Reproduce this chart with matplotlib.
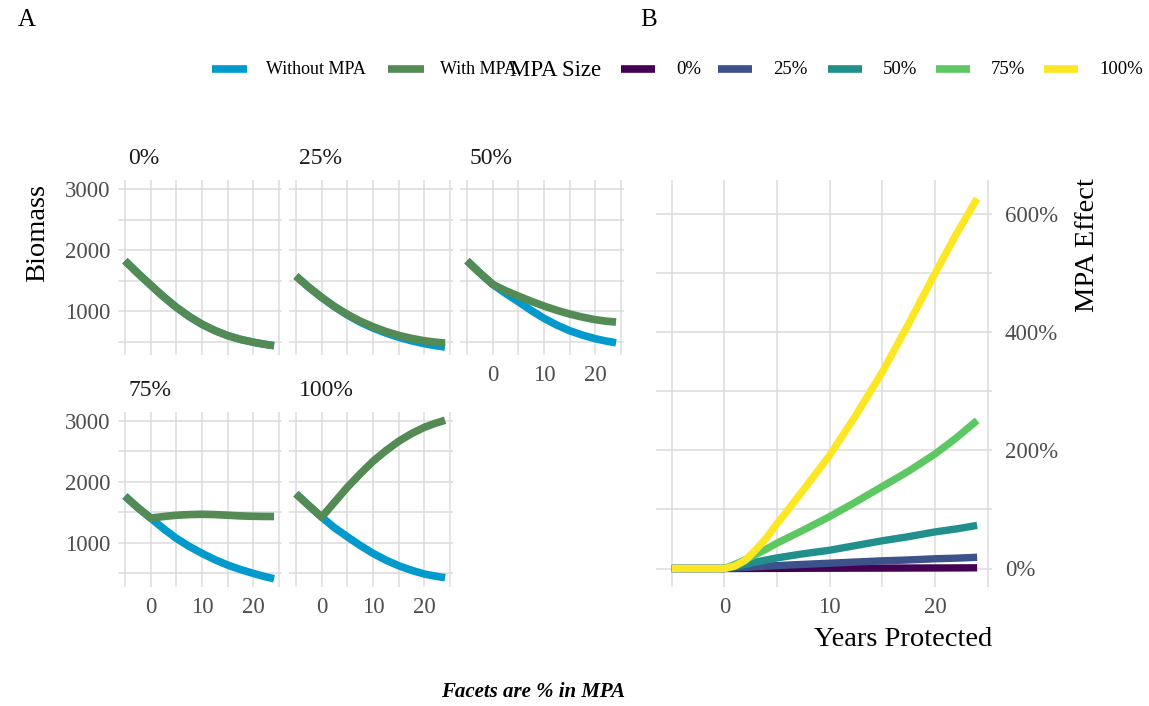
import matplotlib
matplotlib.use('Agg')
import matplotlib.pyplot as plt
from matplotlib.lines import Line2D
from matplotlib.ticker import MultipleLocator, FuncFormatter

plt.rcParams['font.family'] = ['Liberation Serif', 'DejaVu Serif']

# ---------------- data ----------------
years = [-5, -2.5, 0, 2.5, 5, 7.5, 10, 12.5, 15, 17.5, 20, 22, 24]

facet_labels = ['0%', '25%', '50%', '75%', '100%']

without_0 = [1825, 1620, 1426, 1235, 1062, 910, 783, 680, 597, 535, 489, 458, 433]
with_0 = [1825, 1620, 1426, 1235, 1062, 910, 783, 680, 597, 535, 489, 458, 433]

without_25 = [1574, 1390, 1224, 1070, 935, 818, 722, 640, 570, 512, 465, 435, 410]
with_25 = [1574, 1390, 1224, 1075, 946, 835, 743, 665, 602, 552, 513, 492, 475]

without_50 = [1825, 1625, 1438, 1290, 1153, 1010, 880, 770, 677, 605, 546, 510, 480]
with_50 = [1825, 1625, 1438, 1335, 1246, 1160, 1082, 1012, 951, 900, 858, 835, 820]

without_75 = [1765, 1575, 1405, 1230, 1072, 940, 826, 722, 634, 560, 497, 450, 410]
with_75 = [1765, 1575, 1405, 1430, 1451, 1462, 1467, 1462, 1451, 1440, 1434, 1431, 1430]

without_100 = [1803, 1610, 1420, 1245, 1098, 955, 826, 715, 623, 548, 487, 455, 427]
with_100 = [1803, 1610, 1420, 1665, 1910, 2130, 2336, 2510, 2664, 2790, 2893, 2955, 3008]

without_series = [without_0, without_25, without_50, without_75, without_100]
with_series = [with_0, with_25, with_50, with_75, with_100]

# MPA effect (%) by MPA size
years_b = [-5, -2.5, 0, 1, 2, 3, 4, 5, 6.25, 7.5, 10, 12.5, 15, 17.5, 20, 22, 24]
effect_0 = [0, 0, 0, 0, 0.1, 0.1, 0.2, 0.2, 0.3, 0.4, 0.5, 0.6, 0.7, 0.8, 0.9, 1.0, 1.2]
effect_25 = [0, 0, 0, 1, 2, 3, 4, 5, 6, 7, 9, 11, 13, 14.5, 16.5, 17.5, 19]
effect_50 = [0, 0, 0, 3.5, 7, 11, 14.5, 18, 21.5, 25, 31, 39, 47, 54, 62, 67, 73]
effect_75 = [0, 0, 0, 7, 15, 24, 33, 43, 54, 65, 88, 113, 139, 165, 194, 221, 251]
effect_100 = [0, 0, 0, 4, 14, 32, 52, 76, 104, 133, 192, 260, 333, 415, 500, 566, 627]
effect_series = [effect_0, effect_25, effect_50, effect_75, effect_100]

mpa_sizes = ['0%', '25%', '50%', '75%', '100%']
viridis5 = ['#440154', '#3B528B', '#21908C', '#5DC863', '#FDE725']
col_without = '#009ACD'
col_with = '#548B54'
grid_col = '#dcdcdc'
tick_col = '#4d4d4d'

W, H = 1149, 706
fig = plt.figure(figsize=(W / 100, H / 100), dpi=100)


def px_axes(left, top, width, height):
    return fig.add_axes([left / W, 1 - (top + height) / H, width / W, height / H])


def ftext(x, y, s, **kw):
    return fig.text(x / W, 1 - y / H, s, **kw)


def fline(x0, x1, y, color, lw):
    fig.add_artist(Line2D([x0 / W, x1 / W], [1 - y / H, 1 - y / H],
                          transform=fig.transFigure, color=color, lw=lw,
                          solid_capstyle='butt'))


def style(ax):
    for sp in ax.spines.values():
        sp.set_visible(False)
    ax.set_facecolor('white')
    ax.grid(which='both', color=grid_col, lw=1.1)
    ax.set_axisbelow(True)
    ax.tick_params(which='both', length=0, labelcolor=tick_col, labelsize=16.5)


# ---------------- panel A ----------------
col_left = [117.5, 288.5, 459.5]
row_top = [180, 411.7]
pw, ph = 164, 175.3
positions = [(0, 0), (0, 1), (0, 2), (1, 0), (1, 1)]

for i, (r, c) in enumerate(positions):
    ax = px_axes(col_left[c], row_top[r], pw, ph)
    style(ax)
    ax.plot(years, without_series[i], color=col_without, lw=5.5, solid_capstyle='butt')
    ax.plot(years, with_series[i], color=col_with, lw=5.5, solid_capstyle='butt')
    ax.set_xlim(-6.45, 25.45)
    ax.set_ylim(275, 3148)
    ax.xaxis.set_major_locator(MultipleLocator(10))
    ax.xaxis.set_minor_locator(MultipleLocator(5))
    ax.yaxis.set_major_locator(MultipleLocator(1000))
    ax.yaxis.set_minor_locator(MultipleLocator(500))
    ax.tick_params(axis='y', pad=5)
    ax.tick_params(axis='x', pad=7)
    if c != 0:
        ax.tick_params(axis='y', labelleft=False)
    if (r, c) in [(0, 0), (0, 1)]:
        ax.tick_params(axis='x', labelbottom=False)
    ftext(col_left[c] + 10.5, row_top[r] - 21, facet_labels[i],
          fontsize=17, color='#1a1a1a', va='center', ha='left')

ftext(38, 233, 'Biomass', fontsize=20.5, rotation=90, va='center', ha='center')
ftext(533, 692, 'Facets are % in MPA', fontsize=15, fontweight='bold',
      fontstyle='italic', ha='center', va='center')

# ---------------- panel B ----------------
axb = px_axes(656.4, 180, 336, 407)
style(axb)
for vals, colr in zip(effect_series, viridis5):
    axb.plot(years_b, vals, color=colr, lw=5.3, solid_capstyle='butt')
axb.set_xlim(-6.45, 25.45)
axb.set_ylim(-31.35, 658.35)
axb.xaxis.set_major_locator(MultipleLocator(10))
axb.xaxis.set_minor_locator(MultipleLocator(5))
axb.yaxis.set_major_locator(MultipleLocator(200))
axb.yaxis.set_minor_locator(MultipleLocator(100))
axb.yaxis.set_major_formatter(FuncFormatter(lambda v, p: f'{v:.0f}%'))
axb.yaxis.tick_right()
axb.tick_params(axis='y', pad=9)
axb.tick_params(axis='x', pad=7)

ftext(992, 639, 'Years Protected', fontsize=20.5, ha='right', va='center')
ftext(1087, 245, 'MPA Effect', fontsize=20.5, rotation=90, ha='center', va='center')

# ---------------- tags ----------------
ftext(18, 20, 'A', fontsize=18, ha='left', va='center')
ftext(640, 20, 'B', fontsize=18, ha='left', va='center')

# ---------------- legends ----------------
dx = -16
fline(228 + dx, 263 + dx, 69, col_without, 5.5)
ftext(282 + dx, 70, 'Without MPA', fontsize=13, ha='left', va='center')
fline(404 + dx, 440 + dx, 69, col_with, 5.5)
ftext(456 + dx, 70, 'With MPA', fontsize=13, ha='left', va='center')

ftext(510, 71, 'MPA Size', fontsize=16.5, ha='left', va='center')
key_x = [621, 718, 828, 936, 1044]
for kx, lab, colr in zip(key_x, mpa_sizes, viridis5):
    fline(kx, kx + 34, 69, colr, 5.5)
    ftext(kx + 55, 70, lab, fontsize=13.5, ha='left', va='center')

fig.savefig('out.png', dpi=100, facecolor='white')
